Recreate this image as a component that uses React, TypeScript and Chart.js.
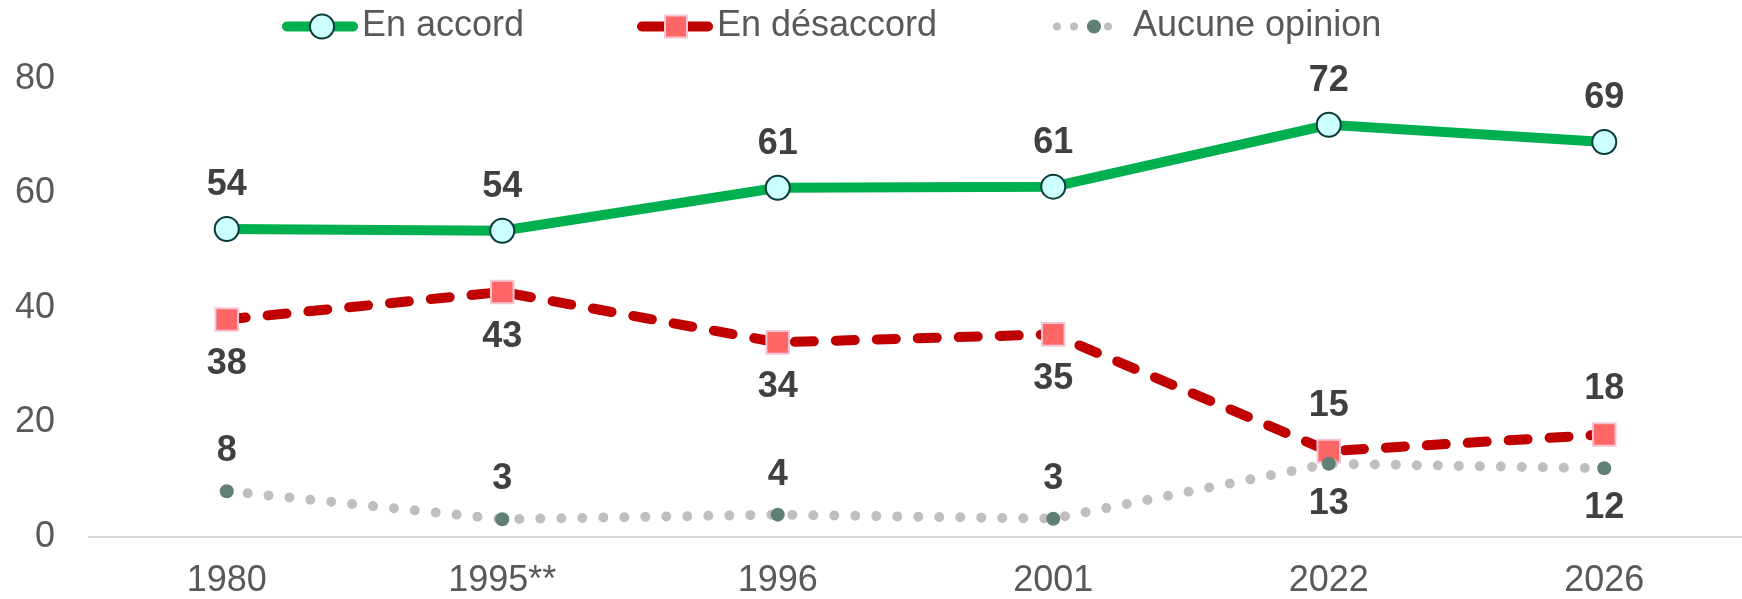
import React, { useEffect, useRef } from 'react';
import { Chart, registerables } from 'chart.js';

Chart.register(...registerables);

const categories = ['1980', '1995**', '1996', '2001', '2022', '2026'];
const enAccord = [53.8, 53.5, 61, 61.2, 72, 69];
const enDesaccord = [38, 42.8, 34, 35.4, 15, 17.9];
const aucuneOpinion = [8, 3.1, 3.9, 3.2, 12.8, 12];
const yTickValues = [0, 20, 40, 60, 80];
const seriesNames = ['En accord', 'En désaccord', 'Aucune opinion'];
const labelPlacement = [
  ['above', 'above', 'above', 'above', 'above', 'above'],
  ['below', 'below', 'below', 'below', 'above', 'above'],
  ['above', 'above', 'above', 'above', 'below', 'below'],
];

const FONT = '"Liberation Sans", Arial, sans-serif';
const GREEN = '#00b050';
const RED = '#c00000';
const GRAY = '#bfbfbf';
const TEXT = '#595959';
const LABEL = '#404040';

const labelOffsets = [44, 45, 40];

const dataLabelPlugin = {
  id: 'dataLabels',
  afterDatasetsDraw(chart: any) {
    const ctx = chart.ctx;
    ctx.save();
    ctx.font = `bold 36px ${FONT}`;
    ctx.fillStyle = LABEL;
    ctx.textAlign = 'center';
    ctx.textBaseline = 'middle';
    chart.data.datasets.forEach((ds: any, di: number) => {
      const meta = chart.getDatasetMeta(di);
      meta.data.forEach((pt: any, i: number) => {
        const v = ds.data[i];
        const off = labelOffsets[di];
        const y = labelPlacement[di][i] === 'above' ? pt.y - off : pt.y + off;
        ctx.fillText(String(Math.round(v)), pt.x, y);
      });
    });
    ctx.restore();
  },
};

const legendPlugin = {
  id: 'customLegend',
  afterDraw(chart: any) {
    const ctx = chart.ctx;
    const y = 26.5;
    ctx.save();
    ctx.lineCap = 'round';
    // green
    ctx.lineWidth = 10;
    ctx.strokeStyle = GREEN;
    ctx.beginPath();
    ctx.moveTo(287, y);
    ctx.lineTo(353, y);
    ctx.stroke();
    ctx.beginPath();
    ctx.arc(322, y, 12, 0, Math.PI * 2);
    ctx.fillStyle = '#ccffff';
    ctx.fill();
    ctx.lineWidth = 2;
    ctx.strokeStyle = '#0a3a3a';
    ctx.stroke();
    // red
    ctx.lineWidth = 10;
    ctx.strokeStyle = RED;
    ctx.beginPath();
    ctx.moveTo(642, y);
    ctx.lineTo(708, y);
    ctx.stroke();
    ctx.fillStyle = '#ff6666';
    ctx.fillRect(676 - 11, y - 11, 22, 22);
    ctx.lineWidth = 2;
    ctx.strokeStyle = '#f3c6d6';
    ctx.strokeRect(676 - 11, y - 11, 22, 22);
    // gray dotted
    ctx.lineWidth = 8;
    ctx.strokeStyle = GRAY;
    ctx.setLineDash([0, 17]);
    ctx.beginPath();
    ctx.moveTo(1057, y);
    ctx.lineTo(1125, y);
    ctx.stroke();
    ctx.setLineDash([]);
    ctx.beginPath();
    ctx.arc(1094, y, 7, 0, Math.PI * 2);
    ctx.fillStyle = '#5f7f77';
    ctx.fill();
    // text
    ctx.font = `36px ${FONT}`;
    ctx.fillStyle = TEXT;
    ctx.textAlign = 'left';
    ctx.textBaseline = 'middle';
    ctx.fillText(seriesNames[0], 362, y);
    ctx.fillText(seriesNames[1], 717, y);
    ctx.fillText(seriesNames[2], 1133, y);
    ctx.restore();
  },
};

export default function App() {
  const ref = useRef<HTMLCanvasElement | null>(null);

  useEffect(() => {
    if (!ref.current) return;
    const chart = new Chart(ref.current, {
      type: 'line',
      data: {
        labels: categories,
        datasets: [
          {
            label: seriesNames[0],
            data: enAccord,
            borderColor: GREEN,
            borderWidth: 10,
            tension: 0,
            pointStyle: 'circle',
            pointRadius: 12,
            pointBorderWidth: 2,
            pointBackgroundColor: '#ccffff',
            pointBorderColor: '#0a3a3a',
            order: 2,
          },
          {
            label: seriesNames[1],
            data: enDesaccord,
            borderColor: RED,
            borderWidth: 10,
            borderDash: [19, 22],
            borderCapStyle: 'round',
            tension: 0,
            pointStyle: 'rect',
            pointRadius: 16,
            pointBorderWidth: 2,
            pointBackgroundColor: '#ff6666',
            pointBorderColor: '#f3c6d6',
            order: 1,
          },
          {
            label: seriesNames[2],
            data: aucuneOpinion,
            borderColor: GRAY,
            borderWidth: 10,
            borderDash: [0, 21],
            borderCapStyle: 'round',
            tension: 0,
            pointStyle: 'circle',
            pointRadius: 7,
            pointBorderWidth: 0,
            pointBackgroundColor: '#5f7f77',
            pointBorderColor: '#5f7f77',
            order: 0,
          },
        ],
      },
      options: {
        responsive: false,
        animation: false,
        layout: { autoPadding: false, padding: { top: 79, left: 0, right: 0, bottom: 0 } },
        plugins: {
          legend: { display: false },
          tooltip: { enabled: false },
        },
        scales: {
          x: {
            offset: true,
            grid: { display: false, drawTicks: false },
            border: { display: true, color: '#d9d9d9', width: 2 },
            ticks: {
              color: TEXT,
              font: { family: FONT, size: 36 },
              padding: 22,
              maxRotation: 0,
              autoSkip: false,
            },
            afterFit: (s: any) => {
              s.height = 62;
            },
          },
          y: {
            min: 0,
            max: 80,
            grid: { display: false, drawTicks: false },
            border: { display: false },
            afterBuildTicks: (s: any) => {
              s.ticks = yTickValues.map((v) => ({ value: v }));
            },
            ticks: {
              color: TEXT,
              font: { family: FONT, size: 36 },
              padding: 34,
            },
            afterFit: (s: any) => {
              s.width = 89;
            },
          },
        },
      },
      plugins: [dataLabelPlugin, legendPlugin],
    });
    return () => chart.destroy();
  }, []);

  return (
    <div style={{ position: 'fixed', left: 0, top: 0, width: 1742, height: 599, background: '#fff' }}>
      <canvas ref={ref} width={1742} height={599} style={{ display: 'block' }} />
    </div>
  );
}
